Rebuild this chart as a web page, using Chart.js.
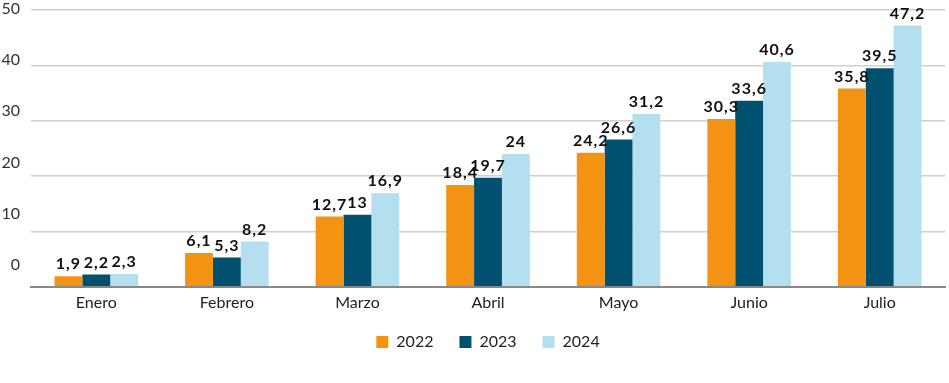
<!DOCTYPE html>
<html>
<head>
<meta charset="utf-8">
<script src="https://cdn.jsdelivr.net/npm/chart.js@4.4.1/dist/chart.umd.min.js"></script>
<style>
  html, body { margin: 0; padding: 0; background: #fff; }
  #wrap { width: 949px; height: 383px; }
</style>
</head>
<body>
<div id="wrap"><canvas id="myChart" width="949" height="383"></canvas></div>
<script>
// datos
const meses = ['Enero', 'Febrero', 'Marzo', 'Abril', 'Mayo', 'Junio', 'Julio'];
const anios = ['2022', '2023', '2024'];
const serie2022 = [1.9, 6.1, 12.7, 18.4, 24.2, 30.3, 35.8];
const serie2023 = [2.2, 5.3, 13, 19.7, 26.6, 33.6, 39.5];
const serie2024 = [2.3, 8.2, 16.9, 24, 31.2, 40.6, 47.2];
const ticksY = [0, 10, 20, 30, 40, 50];

const colores = ['#F39313', '#005070', '#B3DFEE'];
const fuente = 'Lato, "Open Sans", sans-serif';

// etiquetas encima de las barras
const etiquetasPlugin = {
  id: 'etiquetas',
  afterDatasetsDraw(chart) {
    const ctx = chart.ctx;
    ctx.save();
    ctx.font = 'bold 16px ' + fuente;
    ctx.fillStyle = '#111';
    ctx.textAlign = 'center';
    ctx.textBaseline = 'bottom';
    if ('letterSpacing' in ctx) ctx.letterSpacing = '1px';
    chart.data.datasets.forEach((ds, i) => {
      chart.getDatasetMeta(i).data.forEach((bar, j) => {
        const txt = String(ds.data[j]).replace('.', ',');
        ctx.fillText(txt, bar.x, bar.y - 4);
      });
    });
    ctx.restore();
  }
};

// etiquetas del eje Y (van algo desplazadas como en el original)
const ejeYPlugin = {
  id: 'ejeY',
  afterDraw(chart) {
    const ctx = chart.ctx;
    const y = chart.scales.y;
    const top = y.getPixelForValue(50) - 1;
    const bottom = y.getPixelForValue(0) - 22;
    ctx.save();
    ctx.font = '16px ' + fuente;
    ctx.fillStyle = '#333';
    ctx.textAlign = 'right';
    ctx.textBaseline = 'middle';
    ticksY.forEach(v => {
      const py = bottom + (top - bottom) * v / 50;
      ctx.fillText(String(v), 20, py);
    });
    ctx.restore();
  }
};

// acerca la leyenda al gráfico
const leyendaPlugin = {
  id: 'leyendaArriba',
  afterLayout(chart) {
    chart.legend.top -= 10;
    chart.legend.bottom -= 10;
  }
};

const data = {
  labels: meses,
  datasets: [serie2022, serie2023, serie2024].map((serie, i) => ({
    label: anios[i],
    data: serie,
    backgroundColor: colores[i],
    borderWidth: 0,
    barPercentage: 1,
    categoryPercentage: 0.64
  }))
};

new Chart(document.getElementById('myChart'), {
  type: 'bar',
  data: data,
  plugins: [etiquetasPlugin, ejeYPlugin, leyendaPlugin],
  options: {
    responsive: false,
    animation: false,
    layout: { padding: { left: 31, right: 4, top: 10, bottom: 13 } },
    plugins: {
      tooltip: { enabled: false },
      legend: {
        position: 'bottom',
        labels: {
          boxWidth: 12,
          boxHeight: 12,
          padding: 26,
          color: '#222',
          font: { family: fuente, size: 16 }
        }
      }
    },
    scales: {
      x: {
        grid: { display: false, drawTicks: false },
        border: { color: '#888', width: 2 },
        ticks: { color: '#222', font: { family: fuente, size: 16 }, padding: 6 }
      },
      y: {
        min: 0,
        max: 50,
        ticks: { display: false, stepSize: 10 },
        grid: { color: '#d0d0d0', lineWidth: 1.5, drawTicks: false },
        border: { display: false }
      }
    }
  }
});
</script>
</body>
</html>
